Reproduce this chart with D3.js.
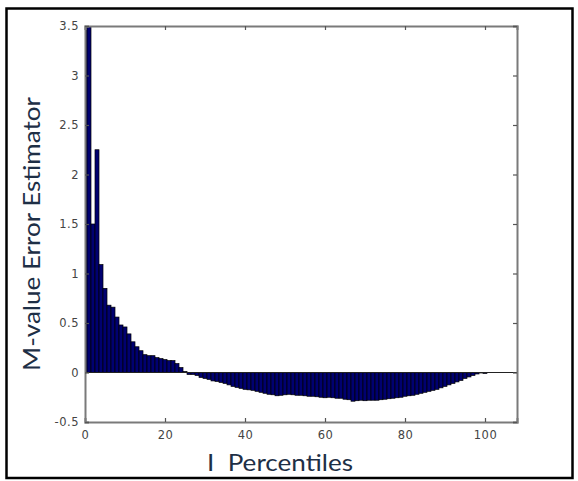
<!DOCTYPE html>
<html>
<head>
<meta charset="utf-8">
<script src="https://cdn.jsdelivr.net/npm/d3@7"></script>
<style>
  html, body { margin: 0; padding: 0; background: #fff; }
  svg { display: block; }
</style>
</head>
<body>
<svg id="chart" width="578" height="481"></svg>
<script>
// Percentile positions (0..100)
const percentiles = d3.range(0, 101);
// M-value error estimator per percentile
const errorValues = [
  3.5, 3.5, 1.5, 2.25, 1.09, 0.85, 0.68, 0.66, 0.56, 0.48,
  0.46, 0.39, 0.31, 0.26, 0.22, 0.18, 0.17, 0.17, 0.15, 0.14,
  0.13, 0.12, 0.12, 0.09, 0.05, 0.01, -0.02, -0.02, -0.03, -0.05,
  -0.06, -0.07, -0.085, -0.09, -0.10, -0.11, -0.125, -0.14, -0.15, -0.16,
  -0.17, -0.175, -0.18, -0.19, -0.20, -0.21, -0.22, -0.225, -0.235, -0.23,
  -0.225, -0.22, -0.225, -0.23, -0.23, -0.235, -0.24, -0.24, -0.245, -0.25,
  -0.255, -0.25, -0.255, -0.26, -0.26, -0.27, -0.275, -0.29, -0.285, -0.28,
  -0.285, -0.28, -0.28, -0.28, -0.275, -0.27, -0.265, -0.26, -0.255, -0.25,
  -0.24, -0.235, -0.23, -0.22, -0.21, -0.20, -0.19, -0.18, -0.17, -0.155,
  -0.14, -0.125, -0.11, -0.095, -0.08, -0.06, -0.045, -0.03, -0.015, -0.005,
  -0.01
];
const xTicks = [0, 20, 40, 60, 80, 100];
const yTicks = [-0.5, 0, 0.5, 1, 1.5, 2, 2.5, 3, 3.5];
const xDomain = [0, 108];
const yDomain = [-0.5, 3.5];
const xTitle = "I  Percentiles";
const yTitle = "M-value Error Estimator";

const svg = d3.select("#chart");
const L = 85, R = 517, T = 26, B = 422;

const x = d3.scaleLinear().domain(xDomain).range([L, R]);
const y = d3.scaleLinear().domain(yDomain).range([B, T]);

// outer frame
svg.append("rect")
  .attr("x", 6.5).attr("y", 8.5).attr("width", 566).attr("height", 469.5)
  .attr("fill", "none").attr("stroke", "#000").attr("stroke-width", 2.5);

svg.append("clipPath").attr("id", "plotclip")
  .append("rect").attr("x", L).attr("y", T).attr("width", R - L).attr("height", B - T);

const data = percentiles.map((p, i) => ({ p, v: errorValues[i] }));
const bw = x(1) - x(0);

svg.append("g").attr("clip-path", "url(#plotclip)")
  .selectAll("rect").data(data).join("rect")
  .attr("x", d => x(d.p - 0.5))
  .attr("width", bw)
  .attr("y", d => y(Math.max(0, d.v)))
  .attr("height", d => Math.abs(y(d.v) - y(0)))
  .attr("fill", "#000070")
  .attr("stroke", "#000")
  .attr("stroke-width", 0.7);

// zero baseline
svg.append("line")
  .attr("x1", L).attr("x2", R).attr("y1", y(0)).attr("y2", y(0))
  .attr("stroke", "#222").attr("stroke-width", 1.2);

// axes
const tickFont = "'DejaVu Sans', sans-serif";
const axB = svg.append("g").attr("transform", `translate(0,${B})`)
  .call(d3.axisBottom(x).tickValues(xTicks).tickSize(-4).tickPadding(9).tickFormat(d3.format("d")));
const axT = svg.append("g").attr("transform", `translate(0,${T})`)
  .call(d3.axisTop(x).tickValues(xTicks).tickSize(-4).tickFormat(""));
const axL = svg.append("g").attr("transform", `translate(${L},0)`)
  .call(d3.axisLeft(y).tickValues(yTicks).tickSize(-4).tickPadding(6).tickFormat(d => String(d)));
const axR = svg.append("g").attr("transform", `translate(${R},0)`)
  .call(d3.axisRight(y).tickValues(yTicks).tickSize(-4).tickFormat(""));

[axB, axT, axL, axR].forEach(g => {
  g.select(".domain").attr("stroke", "#7a7a7a").attr("stroke-width", 2);
  g.selectAll(".tick line").attr("stroke", "#555").attr("stroke-width", 1.2);
  g.selectAll(".tick text")
    .attr("fill", "#444")
    .style("font-family", tickFont)
    .style("font-size", "11.5px")
    .style("letter-spacing", "0.5px");
});

// titles
svg.append("text")
  .attr("x", 280).attr("y", 471)
  .attr("text-anchor", "middle")
  .attr("fill", "#1e2f46")
  .style("font-family", "Lato, 'Open Sans', sans-serif")
  .style("font-size", "23px")
  .style("white-space", "pre")
  .attr("textLength", 146)
  .attr("lengthAdjust", "spacingAndGlyphs")
  .text(xTitle);

svg.append("text")
  .attr("transform", "translate(40,234) rotate(-90)")
  .attr("text-anchor", "middle")
  .attr("fill", "#1e2f46")
  .style("font-family", "Lato, 'Open Sans', sans-serif")
  .style("font-size", "23px")
  .attr("textLength", 274)
  .attr("lengthAdjust", "spacingAndGlyphs")
  .text(yTitle);
</script>
</body>
</html>
